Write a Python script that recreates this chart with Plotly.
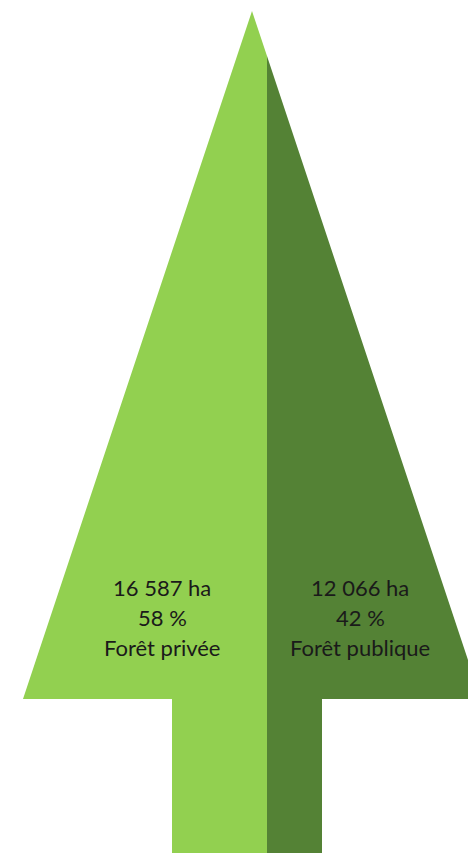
import plotly.graph_objects as go

# Data
categories = ["Forêt privée", "Forêt publique"]
areas_ha = [16587, 12066]
shares_pct = [58, 42]
colors = ["#92D050", "#548235"]

# Tree geometry (pixel layout, decorative)
W, H = 468, 853
apex = (252, 11)
base_y = 699
half_base = 229
split_x = 267
trunk_l, trunk_r = 172, 322

def edge_x(y, side):
    t = (y - apex[1]) / (base_y - apex[1])
    return apex[0] + side * half_base * t

split_top_y = apex[1] + (split_x - apex[0]) / half_base * (base_y - apex[1])

left_poly_x = [apex[0], edge_x(base_y, -1), trunk_l, trunk_l, split_x, split_x, apex[0]]
left_poly_y = [apex[1], base_y, base_y, H + 5, H + 5, split_top_y, apex[1]]

right_poly_x = [split_x, edge_x(base_y, 1), trunk_r, trunk_r, split_x, split_x]
right_poly_y = [split_top_y, base_y, base_y, H + 5, H + 5, split_top_y]

fig = go.Figure()
fig.add_trace(go.Scatter(x=left_poly_x, y=left_poly_y, fill="toself", mode="lines",
                         line=dict(width=0, color=colors[0]), fillcolor=colors[0],
                         hoverinfo="skip", showlegend=False))
fig.add_trace(go.Scatter(x=right_poly_x, y=right_poly_y, fill="toself", mode="lines",
                         line=dict(width=0, color=colors[1]), fillcolor=colors[1],
                         hoverinfo="skip", showlegend=False))

def fmt(n):
    return f"{n:,}".replace(",", " ")

label_x = [162, 360]
line_y = [587, 617, 647]
for i, cat in enumerate(categories):
    lines = [f"{fmt(areas_ha[i])} ha", f"{shares_pct[i]} %", cat]
    for ly, txt in zip(line_y, lines):
        fig.add_annotation(x=label_x[i], y=ly, text=txt, showarrow=False,
                           font=dict(family="Lato, Open Sans, sans-serif", size=22, color="#1a1a1a"),
                           align="center", xanchor="center", yanchor="middle")

fig.update_layout(
    width=W, height=H,
    margin=dict(l=0, r=0, t=0, b=0),
    paper_bgcolor="white", plot_bgcolor="white",
    xaxis=dict(range=[0, W], visible=False, fixedrange=True),
    yaxis=dict(range=[H, 0], visible=False, fixedrange=True),
)
fig.write_html("out.html", config={"displayModeBar": False},
               post_script="document.body.style.margin='0';document.body.style.overflow='hidden';")
